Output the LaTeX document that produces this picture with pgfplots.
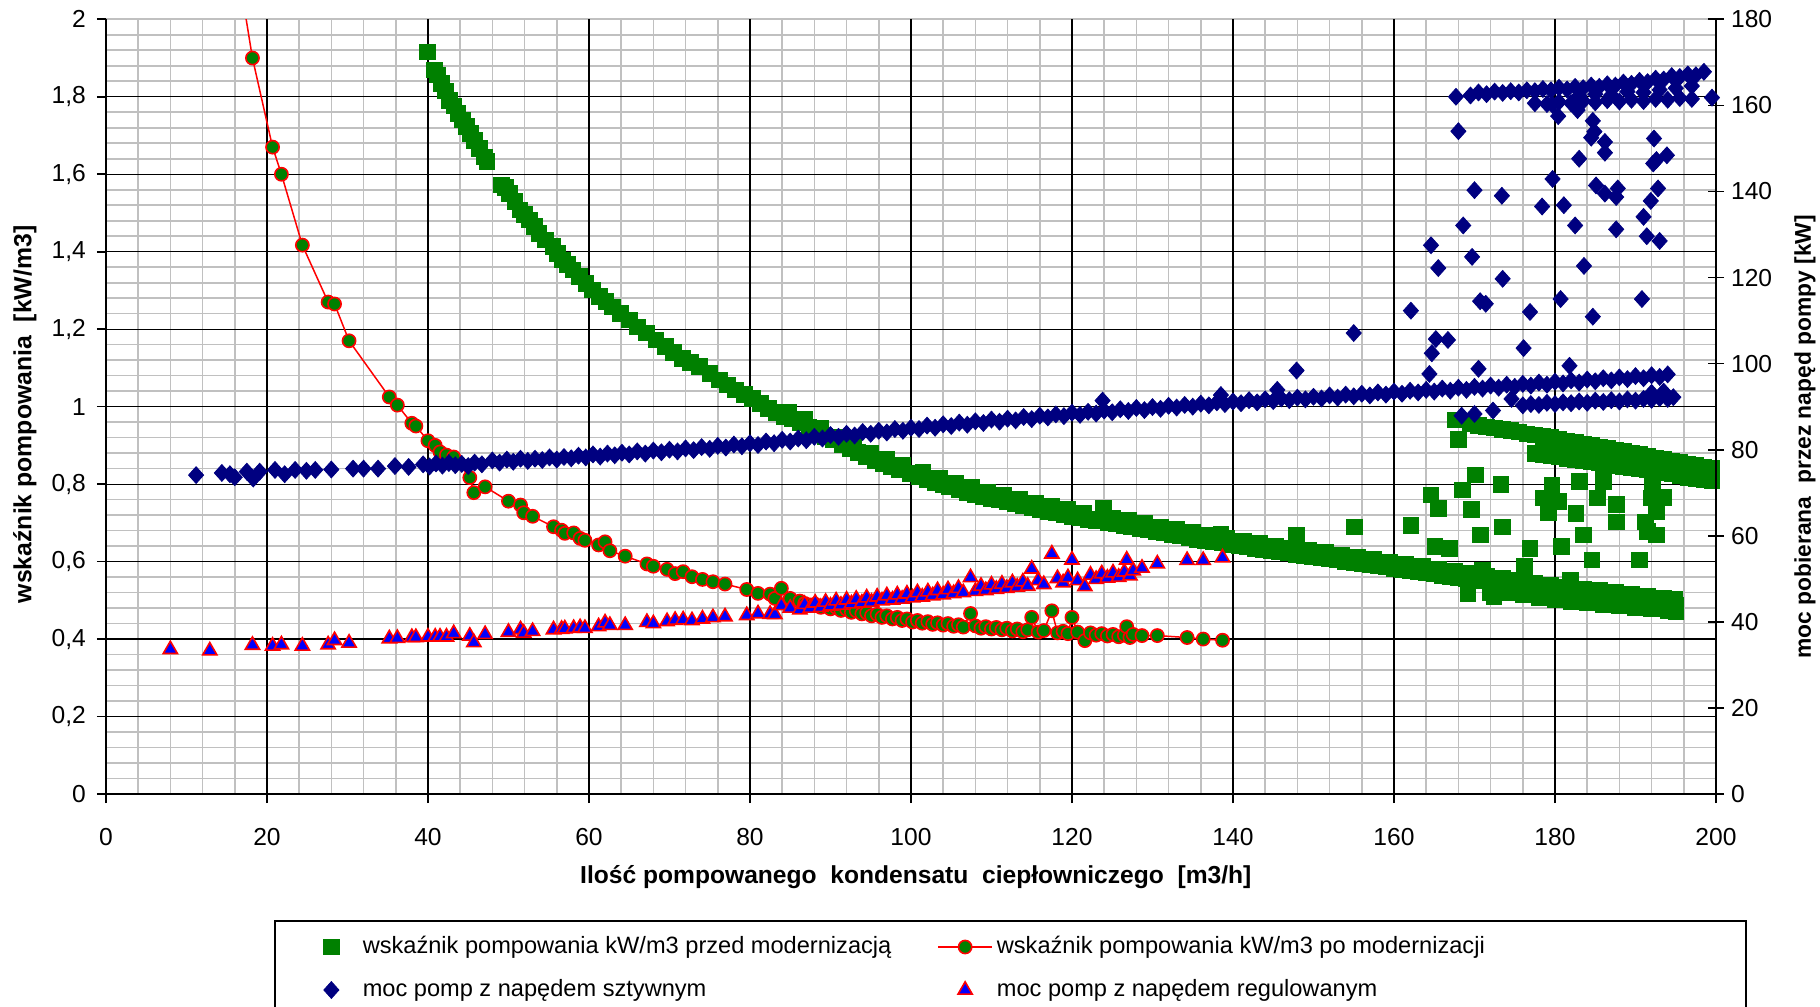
\documentclass[border=0pt]{standalone}
\usepackage{pgfplots}
\pgfplotsset{compat=1.18}
\usepackage{fontspec}
\setmainfont{Liberation Sans}
\definecolor{xgreen}{RGB}{0,128,0}
\definecolor{xnavy}{RGB}{0,0,128}
\definecolor{xblue}{RGB}{0,0,255}
\definecolor{xred}{RGB}{255,0,0}
\definecolor{xgrid}{RGB}{192,192,192}
\pgfplotsset{
  mystyle/.style={
    scale only axis, width=805pt, height=387.35pt,
    xmin=0, xmax=200,
    /pgf/number format/assume math mode=true,
    /pgf/number format/use comma,
    tick label style={font=\fontsize{12.3}{14}\selectfont, black},
  },
  greensq/.style={only marks, mark=square*, mark size=3.9pt, color=xgreen},
  redcirc/.style={xred, line width=0.75pt, mark=*, mark size=3.3pt, mark options={fill=xgreen, draw=xred, line width=0.8pt}},
  navydia/.style={only marks, mark=diamond*, mark size=4.2pt, color=xnavy, mark options={xscale=1.2}},
  bluetri/.style={only marks, mark=triangle*, mark size=4.1pt, mark options={fill=xblue, draw=xred, line width=0.8pt}},
}
\begin{document}
\begin{tikzpicture}
% light grey fine grid (drawn first, under the black grid)
\begin{axis}[
  mystyle,
  ymin=0, ymax=2,
  xtick={4,8,12,16,24,28,32,36,44,48,52,56,64,68,72,76,84,88,92,96,104,108,112,116,124,128,132,136,144,148,152,156,164,168,172,176,184,188,192,196},
  ytick={0.04,0.08,0.12,0.16,0.24,0.28,0.32,0.36,0.44,0.48,0.52,0.56,0.64,0.68,0.72,0.76,0.84,0.88,0.92,0.96,1.04,1.08,1.12,1.16,1.24,1.28,1.32,1.36,1.44,1.48,1.52,1.56,1.64,1.68,1.72,1.76,1.84,1.88,1.92,1.96,2},
  xticklabels={}, yticklabels={},
  grid=major,
  major grid style={xgrid, line width=0.8pt},
  major tick length=0pt,
  axis line style={draw=none},
  tick style={draw=none},
]
\end{axis}
\begin{axis}[
  mystyle,
  ymin=0, ymax=2,
  xtick={0,20,...,200},
  ytick={0,0.2,0.4,0.6,0.8,1,1.2,1.4,1.6,1.8},
  extra y ticks={2},
  extra y tick style={grid=none},
  grid=major,
  major grid style={black, line width=0.6pt},
  axis x line*=bottom, axis y line*=left,
  axis line style={black, line width=1pt},
  tick align=outside, major tick length=4.5pt,
  tick style={black, line width=0.8pt},
  xticklabel style={yshift=-9pt},
  yticklabel style={xshift=-2pt},
  xlabel={Ilość pompowanego\ \ kondensatu\ \ ciepłowniczego\ \ [m3/h]},
  ylabel={wskaźnik pompowania\ \ [kW/m3]},
  every axis x label/.style={at={(rel axis cs:0.503,-0.1075)}, anchor=center, font=\bfseries\fontsize{12.3}{14}\selectfont},
  every axis y label/.style={at={(rel axis cs:-0.0503,0.49)}, rotate=90, anchor=center, font=\bfseries\fontsize{12.4}{14}\selectfont},
]
% green squares: wskaznik przed modernizacja
\addplot[greensq] coordinates {
(39.9,1.916)(40.8,1.869)(41.2,1.856)(41.7,1.834)(42.2,1.815)(42.7,1.791)(43.2,1.776)(43.7,1.757)(44.3,1.740)(44.8,1.723)(45.3,1.705)(45.8,1.688)(46.4,1.666)(47.0,1.645)(47.3,1.633)
(49.1,1.572)(49.6,1.566)(50.1,1.551)(50.8,1.530)(51.4,1.508)(52.0,1.496)(52.6,1.482)(53.2,1.466)(53.8,1.447)(54.6,1.430)(55.5,1.413)(56.1,1.396)(56.7,1.379)(57.3,1.368)(58.0,1.353)(58.8,1.336)(59.6,1.318)
(60.4,1.301)(61.3,1.284)(62.1,1.271)(62.9,1.258)(63.9,1.240)(65.0,1.224)(66.0,1.206)(67.1,1.190)(68.3,1.172)(69.5,1.155)(70.5,1.140)(71.6,1.125)(72.6,1.115)(73.7,1.104)(75.0,1.086)(76.2,1.069)(77.2,1.056)(78.2,1.043)(79.3,1.032)
(80.3,1.022)(81.3,1.008)(82.3,0.996)(83.3,0.985)(84.3,0.975)(85.3,0.968)(86.3,0.960)(87.3,0.948)(88.3,0.935)(89.3,0.923)(90.4,0.914)(91.4,0.903)(92.4,0.893)(93.4,0.882)(94.5,0.871)(95.5,0.862)(96.5,0.853)(97.5,0.845)(98.5,0.838)(99.9,0.828)
(101.0,0.820)(102.0,0.812)(103.0,0.805)(104.0,0.798)(104.8,0.793)(106.0,0.786)(107.0,0.779)(108.0,0.773)(109.0,0.768)(110.0,0.763)(111.0,0.759)(112.0,0.754)(113.0,0.749)(114.0,0.745)(115.0,0.740)(116.0,0.735)(117.0,0.730)(118.0,0.726)(119.0,0.721)(120.0,0.716)
(121.0,0.713)(122.0,0.709)(123.0,0.706)(123.9,0.737)(124.5,0.700)(125.5,0.697)(126.5,0.693)(127.4,0.690)(128.5,0.686)(129.5,0.682)(130.5,0.678)(131.5,0.674)(132.5,0.670)(133.5,0.666)(134.5,0.662)(135.5,0.658)(136.5,0.655)(137.5,0.652)(138.5,0.672)(138.7,0.648)(139.7,0.645)
(140.8,0.641)(141.8,0.638)(142.8,0.634)(143.8,0.631)(144.8,0.628)(145.8,0.625)(146.8,0.622)(147.9,0.668)(147.9,0.619)(148.9,0.616)(149.9,0.613)(151,0.610)(152,0.607)(153,0.604)(154,0.601)(155,0.598)(156,0.595)(157,0.592)(158,0.589)(159,0.586)
(160,0.583)(161,0.580)(162,0.577)(163,0.574)(164,0.571)(165,0.568)(166,0.565)(167,0.562)(168,0.559)(169,0.556)(170,0.553)(171,0.550)(172,0.547)(173,0.544)(174,0.541)(175,0.538)(176,0.535)(177,0.532)(178,0.529)(179,0.527)
(180,0.524)(181,0.521)(182,0.519)(183,0.516)(184,0.514)(185,0.511)(186,0.509)(187,0.506)(188,0.504)(189,0.501)(190,0.499)(191,0.497)(192,0.494)(193,0.492)(194,0.490)(195,0.488)
(84.8,0.985)(86.8,0.968)(88.8,0.944)(90.9,0.922)(92.9,0.902)(95.0,0.881)(97.0,0.864)(99.0,0.848)(101.5,0.831)(103.5,0.816)(105.5,0.803)(107.5,0.791)(109.5,0.780)(111.5,0.771)(113.5,0.762)(115.5,0.752)(117.5,0.743)(119.5,0.734)(121.5,0.725)
(125.0,0.713)(127.0,0.706)(129.0,0.698)(131.0,0.690)(133.0,0.683)(135.0,0.675)(137.0,0.668)(139.2,0.660)(141.3,0.653)(143.3,0.647)(145.3,0.641)(147.3,0.635)(149.4,0.630)(151.5,0.623)(153.5,0.617)(155.5,0.611)(157.5,0.605)(159.5,0.599)
(161.5,0.593)(163.5,0.587)(165.5,0.581)(167.5,0.575)(169.5,0.569)(171.5,0.563)(173.5,0.557)(175.5,0.551)(177.5,0.545)(179.5,0.540)(181.5,0.535)(183.5,0.530)(185.5,0.525)(187.5,0.520)(189.5,0.515)(191.5,0.510)(193.5,0.505)(194.8,0.502)
(172,0.520)(174,0.520)(176,0.514)(178,0.508)(180,0.503)(182,0.498)(184,0.494)(186,0.490)(188,0.486)(190,0.482)(192,0.478)(194,0.474)(195,0.472)
(167.6,0.966)(169.5,0.955)(170.5,0.952)(171.5,0.948)(172.5,0.945)(173.5,0.942)(174.5,0.938)(175.5,0.935)(176.5,0.930)(177.5,0.927)(178.5,0.923)(179.5,0.920)(180.5,0.916)(181.5,0.912)(182.5,0.908)(183.5,0.904)(184.5,0.900)
(185.5,0.896)(186.5,0.892)(187.5,0.888)(188.5,0.884)(189.5,0.880)(190.5,0.876)(191.5,0.872)(192.5,0.868)(193.5,0.864)(194.5,0.860)(195.5,0.856)(196.5,0.852)(197.5,0.848)(198.5,0.844)(199.5,0.840)
(177.5,0.880)(178.5,0.877)(179.5,0.874)(180.5,0.870)(181.5,0.867)(182.5,0.864)(183.5,0.861)(184.5,0.858)(185.5,0.855)(186.5,0.852)(187.5,0.849)(188.5,0.846)(189.5,0.843)(190.5,0.840)(191.5,0.837)(192.5,0.834)(193.5,0.830)(194.5,0.826)(195.5,0.822)(196.5,0.818)(197.5,0.815)(198.5,0.812)(199.5,0.808)
(155.1,0.690)(162.1,0.693)(168.0,0.916)(164.6,0.772)(165.5,0.738)(168.5,0.785)(170.1,0.824)(169.6,0.735)(170.7,0.669)(173.3,0.800)(173.5,0.690)(165.1,0.639)(166.9,0.634)(176.9,0.634)(176.2,0.587)(179.6,0.796)(178.5,0.764)(180.5,0.755)
(179.2,0.727)(182.6,0.725)(183.0,0.807)(180.8,0.639)(183.5,0.669)(184.6,0.604)(185.3,0.764)(186.0,0.807)(187.6,0.747)(187.6,0.703)(190.5,0.604)(191.2,0.703)(192.1,0.794)(191.9,0.764)(193.5,0.766)(192.6,0.729)(192.6,0.669)(191.5,0.678)
(181.9,0.553)(171.0,0.578)(169.2,0.518)(172.4,0.510)(174.2,0.527)(186.0,0.830)(192.2,0.830)
};
% red line with green circles: wskaznik po modernizacji
\addplot[redcirc] coordinates {
(8.0,4.2)(12.9,2.58)(18.2,1.900)(20.7,1.670)(21.8,1.600)(24.4,1.417)(27.6,1.270)(28.4,1.265)(30.2,1.170)(35.2,1.025)(36.2,1.004)(38.0,0.957)(38.5,0.950)(40.0,0.912)(40.9,0.900)(41.5,0.883)(42.3,0.875)(43.2,0.870)
(45.2,0.817)(45.7,0.778)(47.1,0.793)(50.0,0.756)(51.5,0.746)(51.9,0.726)(53.0,0.717)(55.6,0.690)(56.6,0.681)(57.0,0.673)(58.1,0.674)(58.9,0.660)(59.5,0.655)(61.2,0.643)(62.0,0.651)(62.6,0.628)(64.5,0.614)
(67.2,0.594)(68.0,0.588)(69.7,0.580)(70.7,0.569)(71.7,0.574)(72.8,0.561)(74.1,0.554)(75.4,0.548)(76.9,0.542)(79.6,0.528)(81.0,0.518)(82.5,0.516)(83.1,0.505)(83.9,0.531)(85.0,0.505)(86.2,0.498)
(86.8,0.492)(87.5,0.488)(88.1,0.490)(88.8,0.482)(89.4,0.486)(90.0,0.478)(90.7,0.482)(91.3,0.474)(92.0,0.477)(92.6,0.469)(93.2,0.473)(93.9,0.465)(94.5,0.468)(95.1,0.460)(95.8,0.464)(96.4,0.456)(97.0,0.460)(97.7,0.452)(98.3,0.456)(98.9,0.448)
(99.5,0.452)(100.2,0.444)(100.8,0.448)(101.4,0.441)(102.1,0.445)(102.7,0.438)(103.3,0.442)(104.0,0.436)(104.6,0.440)(105.3,0.433)(105.9,0.437)(106.5,0.431)(107.4,0.466)(108.0,0.434)(108.7,0.428)(109.3,0.432)(110.0,0.426)(110.6,0.430)
(111.3,0.424)(111.9,0.428)(112.6,0.421)(113.2,0.426)(113.9,0.419)(114.5,0.424)(115.0,0.456)(115.8,0.418)(116.5,0.422)(117.5,0.473)(118.2,0.416)(118.9,0.420)(119.5,0.414)(120.0,0.456)(120.7,0.418)(121.6,0.396)(122.3,0.416)(123.0,0.410)
(123.7,0.414)(124.4,0.408)(125.1,0.412)(125.8,0.406)(126.5,0.410)(126.8,0.432)(127.2,0.404)(127.6,0.412)(128.7,0.409)(130.6,0.409)(134.3,0.404)(136.3,0.400)(138.7,0.397)
};
\end{axis}
\begin{axis}[
  mystyle,
  ymin=0, ymax=180,
  ytick={0,20,...,180},
  axis x line=none, axis y line*=right,
  axis line style={black, line width=1.1pt},
  tick align=center, major tick length=8pt,
  tick style={black, line width=0.8pt},
  ylabel={moc pobierana\ \ przez napęd pompy [kW]},
  every axis y label/.style={at={(rel axis cs:1.0553,0.461)}, rotate=90, anchor=center, font=\bfseries\fontsize{11.4}{14}\selectfont},
  legend columns=2,
  legend cell align=left,
  legend image code/.code={\path (0pt,0pt) (27pt,0pt); \draw[mark repeat=2,mark phase=2,#1] plot coordinates {(0pt,0pt) (13.5pt,0pt) (27pt,0pt)};},
  legend style={at={(rel axis cs:0.123,-0.1768)}, anchor=north west, draw=none, fill=none, inner sep=0pt, outer sep=0pt,
    font=\fontsize{11.8}{14}\selectfont, row sep=5.5pt,
    /tikz/every even column/.append style={column sep=21pt},
    nodes={inner sep=2pt, text height=9pt, text depth=3pt}},
]
\addlegendimage{greensq}
\addlegendentry{wskaźnik pompowania kW/m3 przed modernizacją}
\addlegendimage{redcirc}
\addlegendentry{wskaźnik pompowania kW/m3 po modernizacji}
% navy diamonds: moc pomp z napedem sztywnym
\addplot[navydia] coordinates {
(11.2,74.1)(14.4,74.6)(15.4,74.3)(16.0,73.6)(17.5,74.9)(18.3,73.3)(19.1,74.9)(21.0,75.3)(22.2,74.3)(23.5,75.3)(24.9,75.1)(26.0,75.3)(28.0,75.4)(30.7,75.6)(32.0,75.6)(33.8,75.6)
(35.9,76.2)(37.6,76.0)(39.4,76.6)(40.2,76.1)(41.0,76.8)(41.8,76.3)(42.6,76.9)(43.4,76.4)(44.2,76.7)(45.0,76.2)(45.8,77.0)(46.7,76.6)(48.0,77.5)(48.9,77.0)(49.8,77.7)(50.6,77.2)(51.5,77.9)(52.4,77.4)(53.3,77.9)(54.2,77.6)
(55.1,78.2)(56.0,77.7)(56.9,78.3)(57.8,78.0)(58.7,78.6)(59.6,78.2)(60.5,78.9)(61.4,78.4)(62.3,79.1)(63.2,78.7)(64.1,79.3)(65.0,78.9)(66.0,79.6)(67.0,79.1)(68.0,79.8)(69.0,79.4)(70.0,80.0)(71.0,79.6)(72.0,80.3)(73.0,79.9)
(74.0,80.6)(75.0,80.2)(76.0,80.9)(77.0,80.5)(78.0,81.2)(79.0,80.8)(80.0,81.5)(81.0,81.1)(82.0,81.9)(83.0,81.5)(84.0,82.3)(85.0,81.9)(86.0,82.6)(87.0,82.2)(88.0,83.0)(89.0,82.6)(90.0,83.4)(91.0,83.0)(92.0,83.7)(93.0,83.3)
(94.0,84.1)(95.0,83.7)(96.0,84.4)(97.0,84.0)(98.0,84.8)(99.0,84.4)(100.0,85.1)(101,84.8)(102,85.6)(103,85.1)(104,85.9)(105,85.5)(106,86.3)(107,85.8)(108,86.6)(109,86.2)(110,87.0)(111,86.5)(112,87.2)(113,86.8)
(114,87.6)(115,87.1)(116,87.9)(117,87.5)(118,88.2)(119,87.8)(120,88.6)(121,88.1)(122,88.8)(123,88.4)(124,89.1)(125,88.7)(126,89.4)(127,89.0)(128,89.7)(129,89.2)(130,89.9)(131,89.5)(132,90.2)(133,89.8)
(134,90.4)(135,90.0)(136,90.7)(137,90.3)(138,91.0)(139,90.6)(140,91.2)(141,90.8)(142,91.5)(143,91.0)(144,91.7)(145,91.3)(146,91.9)(147,91.5)(148,92.1)(149,91.7)(150,92.3)(151,91.9)(152,92.6)(153,92.1)
(154,92.8)(155,92.4)(156,93.0)(157,92.6)(158,93.3)(159,92.8)(160,93.5)(161,93.0)(162,93.7)(163,93.3)(164,93.9)(165,93.5)(166,94.2)(167,93.7)(168,94.4)(169,93.9)(170,94.6)(171,94.2)(172,94.9)(173,94.4)
(174,95.1)(175,94.6)(176,95.3)(177,94.9)(178,95.6)(179,95.1)(180,95.8)(181,95.4)(182,96.1)(183,95.6)(184,96.3)(185,95.9)(186,96.6)(187,96.1)(188,96.8)(189,96.4)(190,97.1)(191,96.6)(192,97.3)(193,96.9)(194,97.5)
(176,90.3)(177,90.6)(178,90.4)(179,90.9)(180,90.6)(181,91.0)(182,90.8)(183,91.2)(184,90.9)(185,91.4)(186,91.1)(187,91.5)(188,91.2)(189,91.7)(190,91.4)(191,91.8)(192,91.6)(193,92.0)(194,91.8)(194.7,92.2)(193.5,93.5)(192,93.2)
(167.7,162.0)(169.5,162.3)(170.5,163.0)(171.5,162.6)(172.5,163.2)(173.5,162.9)(174.5,163.3)(175.5,163.0)(176.5,163.5)(177.5,163.3)(178.5,163.8)(179.5,163.5)(180.5,164.1)(181.5,163.7)(182.5,164.3)(183.5,164.0)(184.5,164.6)
(185.5,164.3)(186.5,164.9)(187.5,164.6)(188.5,165.3)(189.5,165.0)(190.5,165.7)(191.5,165.4)(192.5,166.2)(193.5,166.0)(194.5,166.8)(195.5,166.6)(196.5,167.2)(197.5,167.0)(198.5,167.8)
(183,162.3)(185,162.6)(187,162.4)(189,163.2)(191,163.0)(193,163.6)(195,164.0)(197,164.5)
(177.5,160.5)(179,160.3)(180.5,160.8)(182,160.5)(183.5,161.0)(185,160.7)(186.5,161.2)(188,160.9)(189.5,161.3)(191,161.0)(192.5,161.5)(194,161.3)(195.5,161.7)(197,161.5)(199.5,161.8)
(168.0,154.0)(179.7,160.1)(180.4,157.5)(182.8,158.9)(184.7,156.4)(184.9,153.9)(184.5,152.5)(186.2,151.5)(186.2,149.0)(183.0,147.6)(192.3,152.3)(193.9,148.4)(192.2,146.5)(192.6,147.3)
(170.0,140.3)(173.4,139.0)(179.7,142.9)(178.4,136.5)(181.1,136.8)(185.1,141.4)(186.2,139.5)(187.8,140.7)(187.6,138.7)(192.8,140.7)(191.9,137.8)(168.6,132.1)(182.5,132.1)(187.6,131.2)(191.0,134.1)(191.4,129.6)(193.0,128.5)
(164.6,127.5)(165.5,122.2)(169.7,124.8)(173.5,119.7)(183.6,122.7)(162.1,112.3)(170.7,114.5)(171.4,113.9)(176.9,112.0)(180.7,115.0)(184.7,110.9)(190.8,115.0)(155.0,107.1)(165.2,105.7)(166.7,105.5)(164.7,102.4)(176.1,103.6)
(147.9,98.4)(181.8,99.5)(164.4,97.6)(170.5,98.8)(174.6,91.8)(168.4,87.9)(170.0,88.3)(172.3,89.1)(123.8,91.4)(138.5,92.7)(145.5,93.9)
};
\addlegendentry{moc pomp z napędem sztywnym}
% blue triangles: moc pomp z napedem regulowanym
\addplot[bluetri] coordinates {
(8.0,33.6)(12.9,33.3)(18.2,34.6)(20.7,34.4)(21.8,34.7)(24.4,34.4)(27.6,34.7)(28.4,35.7)(30.2,35.1)(35.2,36.1)(36.2,36.2)(38.0,36.4)(38.5,36.4)(40.0,36.5)(40.9,36.5)(41.5,36.5)(42.3,36.5)(43.2,37.3)(45.2,36.7)(45.7,35.2)
(47.1,37.1)(50.0,37.6)(51.5,38.2)(51.9,37.4)(53.0,37.8)(55.6,38.2)(56.6,38.3)(57.0,38.4)(58.1,38.5)(58.9,38.7)(59.5,38.5)(61.2,38.9)(62.0,39.8)(62.6,39.2)(64.5,39.2)(67.2,39.9)(68.0,39.6)(69.7,40.1)(70.7,40.4)(71.7,40.5)
(72.8,40.3)(74.1,40.7)(75.4,41.0)(76.9,41.2)(79.6,41.5)(81.0,41.9)(82.5,41.8)(83.1,41.7)(83.9,43.8)(85.0,43.2)(86.2,42.8)
(86.8,44.1)(87.5,43.2)(88.1,44.4)(88.8,43.4)(89.4,44.6)(90.0,43.7)(90.7,44.9)(91.3,43.9)(92.0,45.1)(92.6,44.2)(93.2,45.3)(93.9,44.4)(94.5,45.6)(95.1,44.6)(95.8,45.8)(96.4,44.9)(97.0,46.1)(97.7,45.1)(98.3,46.3)(98.9,45.3)
(99.5,46.5)(100.2,45.6)(100.8,46.8)(101.4,45.8)(102.1,47.0)(102.7,46.1)(103.3,47.3)(104.0,46.3)(104.6,47.5)(105.3,46.6)(105.9,47.8)(106.5,46.8)(107.4,50.3)(108.0,47.1)(108.7,48.3)(109.3,47.3)(110.0,48.6)(110.6,47.6)
(111.3,48.8)(111.9,47.8)(112.6,49.1)(113.2,48.1)(113.9,49.3)(114.5,48.3)(115.0,52.3)(115.8,49.6)(116.5,48.7)(117.5,55.8)(118.2,50.1)(118.9,49.1)(119.5,50.3)(120.0,54.4)(120.7,49.6)(121.6,48.2)(122.3,50.9)(123.0,49.9)
(123.7,51.2)(124.4,50.2)(125.1,51.4)(125.8,50.4)(126.5,51.6)(126.8,54.4)(127.2,50.7)(127.6,51.9)(128.7,52.5)(130.6,53.5)(134.3,54.3)(136.3,54.3)(138.7,54.9)
};
\addlegendentry{moc pomp z napędem regulowanym}
\coordinate (bbsw) at (rel axis cs:-0.0658,-0.2749);
\coordinate (bbne) at (rel axis cs:1.0646,1.0249);
\coordinate (lgsw) at (rel axis cs:0.1050,-0.40);
\coordinate (lgne) at (rel axis cs:1.0186,-0.1639);
\end{axis}
\draw[black, line width=0.8pt] (lgsw) rectangle (lgne);
\pgfresetboundingbox
\useasboundingbox (bbsw) rectangle (bbne);
\end{tikzpicture}
\end{document}
